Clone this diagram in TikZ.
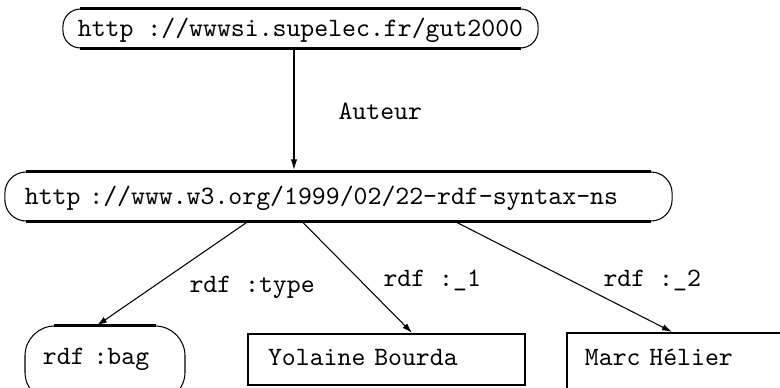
\documentclass[tikz,border=0pt]{standalone}
\usepackage{fontspec}
\usetikzlibrary{arrows.meta,calc}
\tikzset{
  ovalbox/.style={draw, line width=0.4pt, rounded corners=#1, inner ysep=0pt, font=\ttfamily},
  sqbox/.style={draw, line width=0.8pt, inner ysep=0pt, font=\ttfamily},
  thickedge/.style={line width=0.8pt},
  mainarrow/.style={line width=0.8pt, -{Latex[length=4.6pt,width=2.4pt]}},
  subarrow/.style={line width=0.4pt, -{Latex[length=3.8pt,width=2.4pt]}},
  lbl/.style={font=\ttfamily, anchor=base west, inner sep=0pt}
}
\begin{document}
\begin{tikzpicture}[x=0.3774pt, y=-0.3774pt]
\useasboundingbox (0,0) rectangle (780,388);
\fill[white] (0,0) rectangle (780,388);
\clip (0,0) rectangle (780,388);

% nodes
\node[ovalbox=6.6pt, minimum width=179.3pt, text height=10.2pt, text depth=4.5pt] (n1) at (300.5,28.5) {http :/\kern0pt/wwwsi.supelec.fr/gut2000};
\node[ovalbox=8pt, inner xsep=7.55pt, text width=236.7pt, align=left, text height=12.1pt, text depth=6.4pt] (n2) at (338.5,196.5) {http :/\kern0pt/www.w3.org/1999/02/22-rdf-syntax-ns};
\node[ovalbox=11.3pt, inner xsep=6.8pt, text width=46.8pt, align=left, text height=14.7pt, text depth=14pt] (bag) at (105,364) {rdf :bag};
\node[sqbox, inner xsep=7.55pt, text width=89.4pt, align=left, text height=12.1pt, text depth=7.2pt] (yb) at (386.5,359.5) {Yolaine Bourda};
\node[sqbox, inner xsep=6.8pt, text width=91pt, align=left, text height=12.1pt, text depth=13.2pt] (mh) at (705.5,366.5) {Marc Hélier};

% thick straight parts of the ovals
\draw[thickedge] ([xshift=6.6pt]n1.north west) -- ([xshift=-6.6pt]n1.north east);
\draw[thickedge] ([xshift=6.6pt]n1.south west) -- ([xshift=-6.6pt]n1.south east);
\draw[thickedge] ([xshift=8pt]n2.north west) -- ([xshift=-8pt]n2.north east);
\draw[thickedge] ([xshift=8pt]n2.south west) -- ([xshift=-8pt]n2.south east);
\draw[thickedge] ([xshift=11.3pt]bag.north west) -- ([xshift=-11.3pt]bag.north east);

% connector positions
\coordinate (a0) at (294,0);
\coordinate (s1) at (248,0);
\coordinate (e1) at (97,0);
\coordinate (s2) at (302,0);
\coordinate (e2) at (412,0);
\coordinate (s3) at (455,0);
\coordinate (e3) at (672,0);

\draw[mainarrow] (n1.south -| a0) -- (n2.north -| a0);
\draw[subarrow] (n2.south -| s1) -- (bag.north -| e1);
\draw[subarrow] (n2.south -| s2) -- (yb.north -| e2);
\draw[subarrow] (n2.south -| s3) -- (mh.north -| e3);

% labels
\node[lbl] (lauteur) at (338,120) {Auteur};
\node[lbl] (ltype) at (189,293) {rdf :type};
\node[lbl] (l1) at (383,287) {rdf :\_1};
\node[lbl] (l2) at (603,287) {rdf :\_2};
\end{tikzpicture}
\end{document}
